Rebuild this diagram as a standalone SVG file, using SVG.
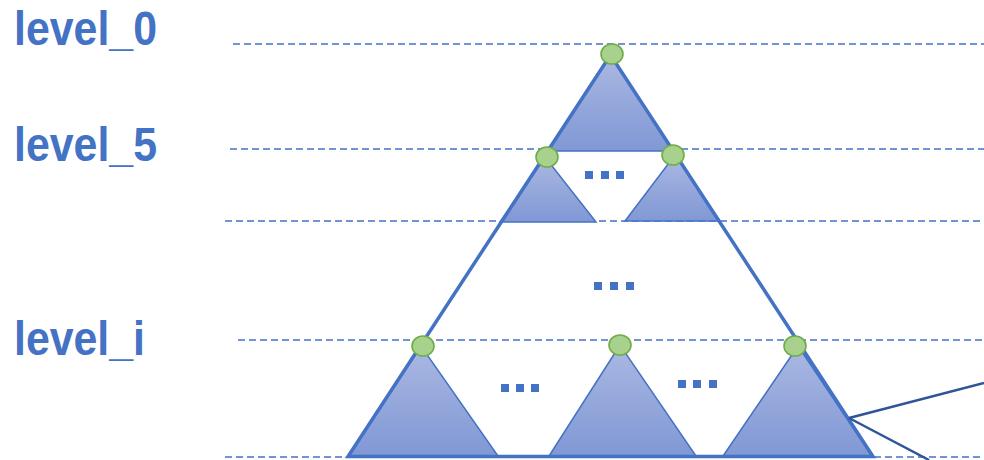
<svg xmlns="http://www.w3.org/2000/svg" width="984" height="460" viewBox="0 0 984 460">
<style>
.lvl{font-family:"Liberation Sans",Arial,sans-serif;font-weight:bold;font-size:48px;fill:#4472C4}
.dash{stroke:#4472C4;stroke-width:1.6;stroke-dasharray:7 4;fill:none}
.tri{fill:url(#g);stroke:#4472C4;stroke-width:1.5;stroke-linejoin:miter}
.node{fill:#A9D18E;stroke:#70AD47;stroke-width:1.6}
.dot{fill:#4472C4}
.link{stroke:#2F5597;stroke-width:2.5;fill:none}
</style>
<defs>
<linearGradient id="g" x1="0" y1="0" x2="0" y2="1">
<stop offset="0" stop-color="#ABB8E2"/>
<stop offset="1" stop-color="#8098D5"/>
</linearGradient>
</defs>
<rect width="984" height="460" fill="#fff"/>
<g id="labels">
<text class="lvl" x="14" y="45" textLength="143" lengthAdjust="spacingAndGlyphs">level_0</text>
<text class="lvl" x="14" y="161" textLength="143" lengthAdjust="spacingAndGlyphs">level_5</text>
<text class="lvl" x="14" y="355" textLength="131" lengthAdjust="spacingAndGlyphs">level_i</text>
</g>
<g id="guides">
<line class="dash" x1="233" y1="44" x2="984" y2="44"/>
<line class="dash" x1="230" y1="149" x2="984" y2="149"/>
<line class="dash" x1="225" y1="221" x2="984" y2="221"/>
<line class="dash" x1="238" y1="340" x2="984" y2="340"/>
<line class="dash" x1="225" y1="457" x2="984" y2="457"/>
</g>
<g id="subtree-top">
<polygon class="tri" points="610.5,55 548,151 673,151"/>
</g>
<g id="subtree-l5-left">
<polygon class="tri" points="545,157 500,222 596,222"/>
</g>
<g id="subtree-l5-right">
<polygon class="tri" points="675,155 625,221 720,221"/>
</g>
<g id="subtree-li-left">
<polygon class="tri" points="421,346 349,456 498,456"/>
</g>
<g id="subtree-li-mid">
<polygon class="tri" points="620,345 549,456 696,456"/>
</g>
<g id="subtree-li-right">
<polygon class="tri" points="798,346 723,456 872,456"/>
</g>
<g id="outline">
<polygon points="610.5,55 348,456.5 873,456.5" fill="none" stroke="#4472C4" stroke-width="3.5" stroke-linejoin="miter"/>
</g>
<g id="connectors">
<line class="link" x1="849" y1="418" x2="984" y2="383"/>
<line class="link" x1="849" y1="418" x2="929" y2="460"/>
</g>
<g id="ellipsis">
<rect class="dot" x="585" y="171" width="8" height="8"/>
<rect class="dot" x="601" y="171" width="8" height="8"/>
<rect class="dot" x="616" y="171" width="8" height="8"/>
<rect class="dot" x="594" y="282" width="8" height="8"/>
<rect class="dot" x="610" y="282" width="8" height="8"/>
<rect class="dot" x="626" y="282" width="8" height="8"/>
<rect class="dot" x="501" y="384" width="8" height="8"/>
<rect class="dot" x="516" y="384" width="8" height="8"/>
<rect class="dot" x="531" y="384" width="8" height="8"/>
<rect class="dot" x="678" y="380" width="8" height="8"/>
<rect class="dot" x="693" y="380" width="8" height="8"/>
<rect class="dot" x="709" y="380" width="8" height="8"/>
</g>
<g id="node-root"><ellipse class="node" cx="612" cy="54" rx="11" ry="10"/></g>
<g id="node-l5-a"><ellipse class="node" cx="547" cy="157" rx="11" ry="10"/></g>
<g id="node-l5-b"><ellipse class="node" cx="673" cy="155" rx="11" ry="10"/></g>
<g id="node-li-a"><ellipse class="node" cx="423" cy="346" rx="11" ry="10"/></g>
<g id="node-li-b"><ellipse class="node" cx="620" cy="345" rx="11" ry="10"/></g>
<g id="node-li-c"><ellipse class="node" cx="795" cy="346" rx="11" ry="10"/></g>
</svg>
